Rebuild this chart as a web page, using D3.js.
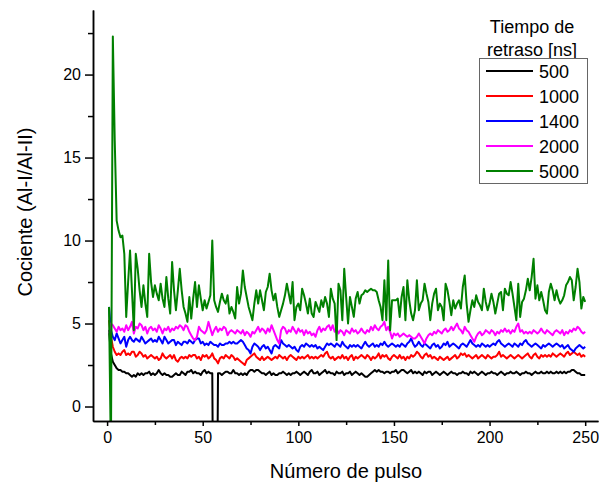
<!DOCTYPE html>
<html><head><meta charset="utf-8">
<script src="https://cdn.jsdelivr.net/npm/d3@7"></script>
<style>body{margin:0;background:#fff}svg{display:block;font-family:"Liberation Sans",Arial,sans-serif}</style>
</head><body>
<svg id="c" width="599" height="485"></svg>
<script>
const seriesNames = ["500","1000","1400","2000","5000"];
const seriesColors = ["#000000","#ff0000","#0000ff","#ff00ff","#008000"];
const legendTitle = ["Tiempo de","retraso [ns]"];
const xTicks = [0,50,100,150,200,250];
const xMinor = [25,75,125,175,225];
const yTicks = [0,5,10,15,20];
const yMinor = [2.5,7.5,12.5,17.5,22.5];
const xTitle = "Número de pulso";
const yTitle = "Cociente (Al-I/Al-II)";

const s500 = [
4.6,3.2,2.7,2.5,2.3,2.2,2.2,2.1,2.1,2.0,
2.0,1.9,1.8,1.9,1.8,2.0,1.9,2.0,1.9,2.0,
2.0,2.1,1.9,2.0,1.9,2.0,2.2,2.0,1.9,2.0,
1.9,1.9,1.8,1.8,1.9,2.0,1.9,1.9,2.1,2.0,
1.9,2.1,2.1,2.2,2.0,2.1,2.0,2.0,1.9,2.1,
2.2,2.0,2.1,2.0,2.0,-15,-15,2.0,2.0,1.9,
2.0,2.1,2.1,2.0,2.0,2.2,2.0,2.0,1.9,2.0,
1.9,2.0,1.9,2.1,2.2,2.2,2.1,2.2,2.2,2.1,
2.0,2.0,1.9,2.0,2.1,1.9,2.0,1.9,1.9,2.0,
2.0,2.1,2.0,1.9,2.0,1.9,2.0,2.0,2.1,2.0,
1.9,2.0,2.1,2.0,1.9,2.1,2.2,2.0,2.0,2.1,
1.9,2.0,2.1,2.2,2.0,2.1,2.0,2.0,1.9,2.1,
2.0,2.0,2.1,1.9,2.0,2.0,2.1,1.9,2.0,2.1,
2.0,1.9,2.0,1.9,1.8,1.8,1.9,2.0,2.1,2.2,
2.1,2.2,2.1,2.1,2.0,2.1,2.1,2.0,2.1,2.1,
2.2,2.0,2.1,2.2,2.2,2.1,2.0,2.1,2.2,2.0,
2.1,2.0,2.1,2.0,1.9,2.1,2.0,2.1,2.1,1.9,
2.0,2.1,2.0,1.9,2.0,2.1,2.0,1.9,2.0,2.1,
2.0,2.0,1.9,2.0,2.0,2.1,2.0,2.0,1.9,2.1,
2.0,2.1,2.0,1.9,2.0,2.1,2.0,1.9,2.0,2.0,
2.1,2.0,2.0,1.9,2.0,2.1,2.0,1.9,2.0,2.0,
2.1,2.0,2.0,2.1,2.0,1.9,2.0,2.0,2.1,2.0,
2.0,1.9,2.0,2.1,2.0,2.0,2.1,2.0,2.0,2.1,
2.0,2.1,2.0,2.0,2.1,2.0,2.1,2.0,2.1,2.0,
2.1,2.1,2.2,2.2,2.1,2.0,2.0,1.9,1.9,1.9];

const s1000 = [
5.2,4.2,3.6,3.3,3.1,3.2,3.1,3.3,3.4,3.1,
3.2,3.1,3.3,3.3,3.0,3.1,3.3,3.2,3.0,3.1,
2.9,3.0,3.1,3.0,2.9,3.0,2.8,2.9,3.2,3.0,
2.9,3.0,3.1,2.9,3.1,2.8,2.7,2.9,3.0,2.9,
3.0,2.9,3.1,3.0,3.1,3.1,2.9,3.0,2.8,3.1,
3.0,3.1,2.9,3.0,3.2,2.9,2.8,2.6,2.9,3.0,
2.9,3.1,3.0,2.9,3.1,3.0,2.8,2.9,2.8,2.7,
2.6,2.5,2.8,2.9,3.0,3.1,3.2,3.0,2.9,2.8,
3.0,2.8,2.9,3.0,2.9,2.8,2.9,3.0,2.9,3.1,
3.0,2.9,3.0,2.8,3.0,3.1,3.0,2.9,2.8,3.0,
2.9,3.0,2.9,3.0,3.1,2.9,3.0,2.9,3.0,2.9,
3.0,3.1,3.0,3.2,3.3,3.0,2.9,3.0,2.8,2.9,
3.0,2.9,3.1,2.9,3.0,2.8,3.0,3.1,2.8,3.0,
2.9,3.0,3.1,3.0,2.9,3.1,3.0,2.8,3.0,2.9,
3.0,3.2,2.9,3.1,3.0,3.1,2.9,2.8,3.0,3.1,
3.0,2.9,3.1,2.9,3.0,2.8,3.0,2.9,3.1,3.0,
3.1,3.3,3.2,3.0,2.9,3.1,3.2,3.0,3.1,2.9,
3.0,2.9,2.8,3.0,2.9,2.8,2.9,3.0,2.8,2.9,
3.0,3.1,2.9,3.0,3.2,3.1,3.2,3.0,3.1,3.0,
2.9,3.0,3.1,2.9,3.0,3.1,3.0,2.9,3.1,3.0,
2.9,3.0,3.0,3.1,3.3,3.0,3.1,3.0,2.9,3.0,
3.1,3.0,2.9,3.0,3.1,3.0,2.9,3.0,3.1,3.2,
3.0,2.9,3.1,3.2,3.0,2.9,3.1,3.0,3.1,3.0,
3.1,3.0,3.2,3.1,3.0,3.1,3.2,3.1,3.0,3.2,
3.3,3.1,3.2,3.3,3.2,3.1,3.2,3.0,3.1,3.0];

const s1400 = [
6.0,4.6,4.2,4.0,4.4,4.1,3.8,4.0,4.2,3.6,
4.0,4.2,4.0,3.9,4.1,4.0,3.9,4.2,4.0,3.8,
3.9,4.0,4.1,3.9,4.0,3.9,4.2,4.0,3.8,4.2,
4.0,3.8,3.9,4.0,4.0,3.7,3.9,3.8,3.7,3.9,
3.9,3.8,4.0,3.9,3.8,4.0,4.1,4.1,3.8,3.9,
3.7,3.8,3.7,3.9,3.8,3.7,3.7,3.6,3.8,3.7,
3.7,3.8,3.8,3.9,3.8,3.9,3.8,3.8,3.9,4.0,
3.9,3.7,3.5,3.4,3.2,3.6,3.8,3.7,3.6,3.4,
3.6,3.7,3.5,3.6,3.4,3.2,3.6,3.7,3.6,3.5,
4.0,3.8,3.7,3.6,3.7,3.6,3.5,3.6,3.4,3.3,
3.6,3.7,3.6,3.8,3.7,3.6,3.7,3.6,3.7,3.5,
3.6,3.5,3.4,3.6,3.8,3.7,3.8,3.7,3.6,3.8,
3.7,3.6,3.9,3.7,3.6,3.5,3.7,3.6,3.7,3.6,
3.7,3.6,3.5,3.7,3.9,3.7,3.6,3.7,3.8,3.6,
3.7,3.6,3.8,3.7,3.9,3.7,3.6,3.7,3.8,3.7,
3.6,3.7,3.6,3.8,3.7,3.6,3.8,3.9,4.1,3.8,
3.6,3.7,3.9,3.7,3.6,3.8,3.7,3.6,3.5,3.7,
3.8,3.6,3.7,3.5,3.6,3.8,3.7,3.9,3.6,3.7,
3.8,3.7,3.6,3.5,3.7,3.8,3.7,3.6,3.8,4.0,
3.8,3.7,3.6,3.7,3.6,3.8,3.7,3.6,3.7,3.6,
3.7,3.8,3.7,3.9,4.0,3.8,3.7,3.6,3.7,3.8,
3.7,3.6,3.8,3.7,3.6,3.8,3.7,3.9,4.0,3.8,
3.7,3.6,3.7,3.8,3.7,3.6,3.5,3.7,3.6,3.7,
3.8,3.7,3.6,3.7,3.8,3.7,3.6,3.7,3.5,3.6,
3.7,3.5,3.4,3.3,3.5,3.6,3.7,3.6,3.5,3.6];

const s2000 = [
4.4,5.0,4.9,4.7,4.5,4.8,4.6,4.7,4.5,4.9,
4.6,4.8,5.1,4.4,4.8,4.7,5.0,4.9,4.6,4.8,
4.4,4.7,4.8,4.6,4.7,4.5,4.9,4.7,4.4,4.7,
4.6,4.8,4.5,4.7,4.6,4.8,4.7,4.9,4.8,4.6,
4.9,4.8,4.5,4.3,4.1,4.0,4.2,4.8,4.6,4.5,
4.4,4.6,5.1,4.7,4.3,4.6,4.8,4.5,4.7,4.6,
4.8,4.7,4.3,4.5,4.6,4.5,4.4,4.6,4.5,4.4,
4.6,4.3,4.5,4.4,4.2,4.5,4.4,4.6,4.8,4.5,
4.7,4.6,4.4,4.7,4.5,4.9,4.6,4.3,4.0,3.8,
4.6,4.8,4.7,4.4,4.6,4.5,4.8,4.6,4.4,4.7,
4.5,4.6,4.3,4.6,4.4,4.5,4.3,4.4,4.2,4.6,
4.8,4.5,4.7,4.6,4.8,4.9,4.6,4.9,4.5,4.7,
4.4,4.6,4.5,4.3,4.6,4.5,4.4,4.7,4.5,4.6,
4.4,4.5,4.7,4.5,4.4,4.6,4.5,4.8,4.6,4.9,
4.7,4.6,4.8,4.9,5.1,4.6,4.8,4.5,4.1,4.4,
4.3,4.4,4.2,4.3,4.4,4.3,4.2,4.3,4.2,4.1,
4.1,4.2,4.4,4.2,4.0,3.8,4.1,4.3,4.4,4.3,
4.5,4.4,4.6,4.5,4.4,4.6,4.7,4.5,4.6,4.8,
4.6,4.8,5.0,4.7,4.6,4.4,4.8,4.6,4.5,4.3,
4.1,3.9,4.2,4.4,4.5,4.3,4.4,4.6,4.5,4.4,
4.6,4.5,4.3,4.5,4.4,4.6,4.5,4.7,4.5,4.6,
4.4,4.6,4.5,4.8,5.0,4.5,4.6,4.4,4.5,4.4,
4.5,4.4,4.6,4.5,4.4,4.5,4.7,4.5,4.4,4.6,
4.5,4.4,4.3,4.5,4.6,4.5,4.4,4.6,4.3,4.5,
4.4,4.6,4.5,4.7,4.6,4.8,4.7,4.5,4.4,4.5];

const s5000 = [
6.0,-3.0,22.3,16.0,11.2,10.6,10.2,10.3,9.2,5.4,
7.5,9.4,7.0,4.6,9.2,8.3,7.0,6.0,7.3,6.2,
5.4,9.2,7.5,6.6,7.3,6.8,6.4,7.4,6.5,6.0,
7.8,6.5,5.6,8.7,7.0,5.8,7.0,8.3,7.0,6.0,
5.6,5.1,6.6,5.3,6.5,7.5,6.0,7.3,6.5,5.8,
6.4,5.9,6.3,6.7,10.0,6.4,6.0,5.7,6.3,6.8,
6.4,6.2,6.7,5.6,6.0,5.7,5.3,7.2,6.2,6.8,
8.2,7.2,6.6,6.0,5.6,5.2,6.2,7.0,6.2,7.0,
6.4,5.8,6.9,7.2,8.0,7.0,6.4,6.8,6.0,5.4,
5.8,6.2,6.7,7.4,6.8,6.2,7.5,5.2,6.0,6.2,
5.8,7.1,6.7,6.2,5.6,6.5,5.6,5.4,6.3,6.0,
5.7,6.4,6.0,6.6,6.2,5.4,7.1,6.5,6.2,4.0,
7.4,7.0,5.2,8.3,6.6,5.0,6.6,6.0,5.4,6.5,
6.9,6.2,6.7,6.8,7.0,6.9,7.0,7.1,7.0,7.0,
6.9,6.4,6.0,5.2,7.6,5.2,8.8,4.6,6.4,6.4,
6.4,6.5,5.4,6.6,7.2,5.2,7.6,6.4,5.6,5.2,
5.8,7.6,5.8,6.2,6.4,7.4,6.8,6.3,5.2,6.2,
6.8,7.1,5.8,6.2,6.0,5.2,7.4,7.0,6.3,5.5,
6.4,5.9,6.2,6.4,5.9,7.2,7.9,6.2,5.1,5.8,
6.4,6.0,6.7,6.3,6.1,5.8,7.1,6.3,5.8,6.2,
6.8,6.3,5.6,6.2,6.8,6.9,5.8,7.1,6.8,6.7,
7.5,6.8,6.0,5.2,7.4,5.4,6.3,6.5,7.0,7.7,
7.0,7.8,8.9,6.5,7.3,6.4,6.9,6.4,5.8,5.6,
6.9,7.4,7.0,6.4,7.0,6.5,6.2,6.4,6.7,7.3,
7.5,7.8,7.6,6.4,7.2,8.3,7.5,5.9,6.6,6.3];

const allSeries = [s500, s1000, s1400, s2000, s5000];

const svg = d3.select("#c");
const x = d3.scaleLinear().domain([-7.37, 256.7]).range([93, 598]);
const y = d3.scaleLinear().domain([-0.873, 23.89]).range([421, 10]);

svg.append("defs").append("clipPath").attr("id","clip")
  .append("rect").attr("x",93).attr("y",10).attr("width",505).attr("height",411);

const line = d3.line().x((d,i)=>x(i+1)).y(d=>y(d));
const lg = svg.append("g").attr("clip-path","url(#clip)");
allSeries.forEach((s,k)=>{
  lg.append("path").datum(s).attr("d",line)
    .attr("fill","none").attr("stroke",seriesColors[k])
    .attr("stroke-width",2).attr("stroke-linejoin","round");
});

// axes
const fmt = d3.format("d");
const xa = svg.append("g").attr("transform","translate(0,421)")
  .call(d3.axisBottom(x).tickValues(xTicks).tickSize(5).tickSizeOuter(0).tickPadding(6).tickFormat(fmt));
const xm = svg.append("g").attr("transform","translate(0,421)")
  .call(d3.axisBottom(x).tickValues(xMinor).tickSize(4).tickSizeOuter(0).tickFormat(""));
const ya = svg.append("g").attr("transform","translate(93,0)")
  .call(d3.axisLeft(y).tickValues(yTicks).tickSize(8).tickSizeOuter(0).tickPadding(4).tickFormat(fmt));
const ym = svg.append("g").attr("transform","translate(93,0)")
  .call(d3.axisLeft(y).tickValues(yMinor).tickSize(5).tickSizeOuter(0).tickFormat(""));
[xa,xm,ya,ym].forEach(g=>{
  g.select(".domain").attr("stroke","#000").attr("stroke-width",1.5);
  g.selectAll(".tick line").attr("stroke","#000").attr("stroke-width",1.5);
  g.selectAll("text").attr("font-size",16).attr("fill","#000")
    .attr("font-family","'Liberation Sans',Arial,sans-serif");
});

svg.append("text").attr("x",346).attr("y",478).attr("text-anchor","middle")
  .attr("font-size",20).text(xTitle);
svg.append("text").attr("transform","translate(32,212) rotate(-90)")
  .attr("text-anchor","middle").attr("font-size",20).text(yTitle);

// legend
legendTitle.forEach((t,i)=>{
  svg.append("text").attr("x",532).attr("y",33+i*23).attr("text-anchor","middle")
    .attr("font-size",18).text(t);
});
svg.append("rect").attr("x",479.5).attr("y",58.5).attr("width",108).attr("height",125)
  .attr("fill","#fff").attr("stroke","#666").attr("stroke-width",1);
seriesNames.forEach((n,i)=>{
  const yy = 71 + i*25;
  svg.append("line").attr("x1",486).attr("x2",533).attr("y1",yy).attr("y2",yy)
    .attr("stroke",seriesColors[i]).attr("stroke-width",2);
  svg.append("text").attr("x",539).attr("y",yy+6.5).attr("font-size",18).text(n);
});
</script>
</body></html>
